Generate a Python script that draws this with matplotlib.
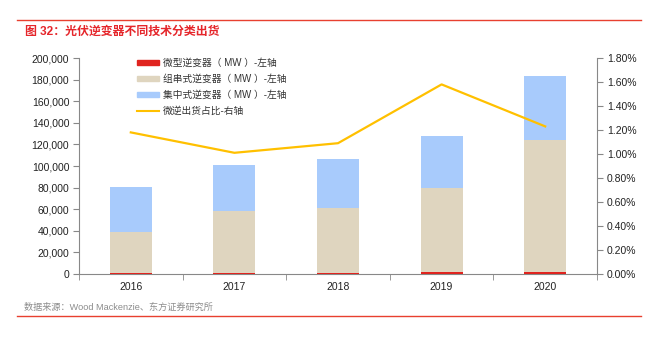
import matplotlib.pyplot as plt
import numpy as np
from matplotlib.patches import Patch
from matplotlib.lines import Line2D
from matplotlib.ticker import FuncFormatter, MultipleLocator

plt.rcParams['font.family'] = ['Liberation Sans', 'Noto Sans CJK SC', 'DejaVu Sans']

years = ['2016', '2017', '2018', '2019', '2020']
micro = [950, 1020, 1160, 2020, 2250]              # 微型逆变器 (MW)
string_inv = [38300, 57000, 60200, 77600, 121700]  # 组串式逆变器 (MW)
central = [41300, 42900, 45100, 48200, 59600]      # 集中式逆变器 (MW)
micro_share = [1.18, 1.01, 1.09, 1.58, 1.23]       # 微逆出货占比 (%)

c_micro = '#E0241F'
c_string = '#DFD5BF'
c_central = '#A8CBFC'
c_line = '#FFC000'
c_red = '#E8402F'
c_axis = '#888888'

fig = plt.figure(figsize=(6.54, 3.37), dpi=100)
ax = fig.add_axes([79 / 654, 1 - 274 / 337, (597 - 79) / 654, (274 - 58) / 337])

x = np.arange(len(years))
w = 0.405
b1 = np.array(micro)
b2 = b1 + np.array(string_inv)
ax.bar(x, micro, w, color=c_micro, zorder=3)
ax.bar(x, string_inv, w, bottom=b1, color=c_string, zorder=2)
ax.bar(x, central, w, bottom=b2, color=c_central, zorder=2)

ax.set_xlim(-0.5, len(years) - 0.5)
ax.set_ylim(0, 200000)
ax.yaxis.set_major_locator(MultipleLocator(20000))
ax.yaxis.set_major_formatter(FuncFormatter(lambda v, p: f'{int(v):,}'))
ax.set_xticks(x)
ax.set_xticklabels(years)
ax.set_xticks(np.arange(-0.5, len(years), 1.0), minor=True)
ax.tick_params(axis='x', which='major', length=0, pad=6, labelsize=7.5, colors='#222222')
ax.tick_params(axis='x', which='minor', length=4, direction='out', color=c_axis)
ax.tick_params(axis='y', length=4, direction='out', color=c_axis, labelsize=7.5,
               labelcolor='#222222', pad=3)
for s in ['top', 'right']:
    ax.spines[s].set_visible(False)
for s in ['left', 'bottom']:
    ax.spines[s].set_color(c_axis)
    ax.spines[s].set_linewidth(0.8)

ax2 = ax.twinx()
ax2.plot(x, micro_share, color=c_line, lw=1.6, zorder=3)
ax2.set_ylim(0, 1.8)
ax2.yaxis.set_major_locator(MultipleLocator(0.2))
ax2.yaxis.set_major_formatter(FuncFormatter(lambda v, p: f'{v:.2f}%'))
ax2.tick_params(axis='y', length=4, direction='out', color=c_axis, labelsize=7.5,
                labelcolor='#222222', pad=3)
for s in ['top', 'left', 'bottom']:
    ax2.spines[s].set_visible(False)
ax2.spines['right'].set_color(c_axis)
ax2.spines['right'].set_linewidth(0.8)

handles = [
    Patch(color=c_micro, label='微型逆变器（ MW ）-左轴'),
    Patch(color=c_string, label='组串式逆变器（ MW ）-左轴'),
    Patch(color=c_central, label='集中式逆变器（ MW ）-左轴'),
    Line2D([0], [0], color=c_line, lw=1.5, label='微逆出货占比-右轴'),
]
leg = ax2.legend(handles=handles, loc='upper left', bbox_to_anchor=(0.095, 1.04),
                 frameon=False, fontsize=7, handlelength=2.3, handleheight=0.45,
                 labelspacing=0.6, handletextpad=0.4)
for t in leg.get_texts():
    t.set_color('#333333')

fig.add_artist(Line2D([17 / 654, 641 / 654], [1 - 20 / 337] * 2, color=c_red, lw=1.0))
fig.add_artist(Line2D([17 / 654, 641 / 654], [1 - 316 / 337] * 2, color=c_red, lw=1.0))
fig.text(25 / 654, 1 - 32 / 337, '图 32：光伏逆变器不同技术分类出货', color='#E5262B',
         fontsize=8.6, fontweight='bold', va='center', ha='left')
fig.text(24 / 654, 1 - 307 / 337, '数据来源：Wood Mackenzie、东方证券研究所', color='#8C8C8C',
         fontsize=6.6, va='center', ha='left')

fig.savefig('out.png', dpi=100)
